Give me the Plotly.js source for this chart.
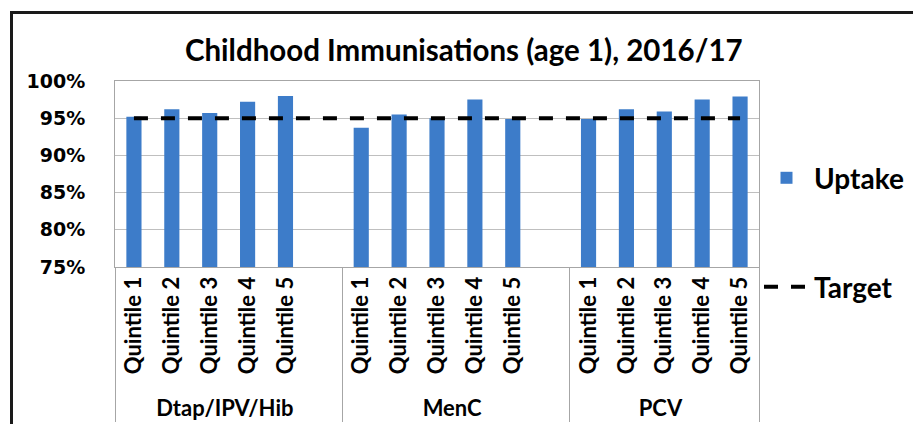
<!DOCTYPE html>
<html>
<head>
<meta charset="utf-8">
<script src="https://cdn.plot.ly/plotly-3.0.1.min.js"></script>
<style>
html,body{margin:0;padding:0;background:#fff;overflow:hidden;}
#wrap{position:relative;width:913px;height:424px;overflow:hidden;}
#chart{width:913px;height:424px;}
#frame{position:absolute;left:10px;top:11px;width:1000px;height:1000px;border:3px solid #1a1a1a;pointer-events:none;}
</style>
</head>
<body>
<div id="wrap">
<div id="chart"></div>
<div id="frame"></div>
</div>
<script>
// Category groups (outer level) and quintiles (inner level); blank slots separate groups
const groups = [
  "Dtap/IPV/Hib","Dtap/IPV/Hib","Dtap/IPV/Hib","Dtap/IPV/Hib","Dtap/IPV/Hib","Dtap/IPV/Hib",
  "MenC","MenC","MenC","MenC","MenC","MenC",
  "PCV","PCV","PCV","PCV","PCV"
];
const quintiles = [
  "Quintile 1","Quintile 2","Quintile 3","Quintile 4","Quintile 5"," ",
  "Quintile 1","Quintile 2","Quintile 3","Quintile 4","Quintile 5"," ",
  "Quintile 1","Quintile 2","Quintile 3","Quintile 4","Quintile 5"
];
// Uptake (%)
const uptake = [
  95.2, 96.2, 95.7, 97.2, 98.0, null,
  93.7, 95.5, 95.0, 97.5, 94.9, null,
  94.9, 96.2, 95.9, 97.5, 97.9
];
// Target (%)
const target = [95,95,95,95,95,95,95,95,95,95,95,95,95,95,95,95,95];
const yTicks = [75, 80, 85, 90, 95, 100];

const calib = "Lato, Open Sans, sans-serif";

const traces = [
  {
    type: "bar",
    name: "Uptake",
    x: [groups, quintiles],
    y: uptake,
    width: 0.4,
    marker: {color: "#3d7cc9"},
    legend: "legend",
    hoverinfo: "y"
  },
  {
    type: "scatter",
    mode: "lines",
    name: "Target",
    x: [groups, quintiles],
    y: target,
    line: {color: "#000000", width: 4, dash: "14px,13px"},
    legend: "legend2",
    connectgaps: true
  }
];

const layout = {
  width: 913,
  height: 424,
  margin: {l: 115, r: 154, t: 81, b: 157, autoexpand: false},
  paper_bgcolor: "#ffffff",
  plot_bgcolor: "#ffffff",
  title: {
    text: "Childhood Immunisations (age 1), 2016/17",
    font: {family: calib, size: 29.5, color: "#000", weight: "bold"},
    x: 0.508, xanchor: "center",
    y: 0.88, yanchor: "middle"
  },
  xaxis: {
    type: "multicategory",
    tickangle: -90,
    tickfont: {family: calib, size: 22, color: "#000", weight: "bold"},
    showline: true,
    linecolor: "#a6a6a6",
    linewidth: 1,
    mirror: true,
    showgrid: false,
    ticks: "outside",
    ticklen: 21,
    tickcolor: "rgba(0,0,0,0)",
    showdividers: true,
    dividercolor: "#a6a6a6",
    dividerwidth: 1
  },
  yaxis: {
    range: [75, 100],
    tickvals: yTicks,
    ticktext: yTicks.map(v => v + "%"),
    tickfont: {family: "DejaVu Sans", size: 19, color: "#000", weight: "bold"},
    showgrid: true,
    gridcolor: "#bfbfbf",
    gridwidth: 1,
    showline: true,
    linecolor: "#a6a6a6",
    linewidth: 1,
    mirror: true,
    zeroline: false,
    ticks: "outside",
    ticklen: 25,
    tickcolor: "rgba(0,0,0,0)"
  },
  legend: {
    x: 1.0, xanchor: "left",
    y: 0.478, yanchor: "middle",
    font: {family: calib, size: 28, color: "#000", weight: "bold"},
    bgcolor: "rgba(0,0,0,0)",
    itemwidth: 45
  },
  legend2: {
    x: 1.0, xanchor: "left",
    y: -0.1075, yanchor: "middle",
    font: {family: calib, size: 28, color: "#000", weight: "bold"},
    bgcolor: "rgba(0,0,0,0)",
    itemwidth: 45
  },
  showlegend: true
};

Plotly.newPlot("chart", traces, layout, {displayModeBar: false, responsive: false});
</script>
</body>
</html>
